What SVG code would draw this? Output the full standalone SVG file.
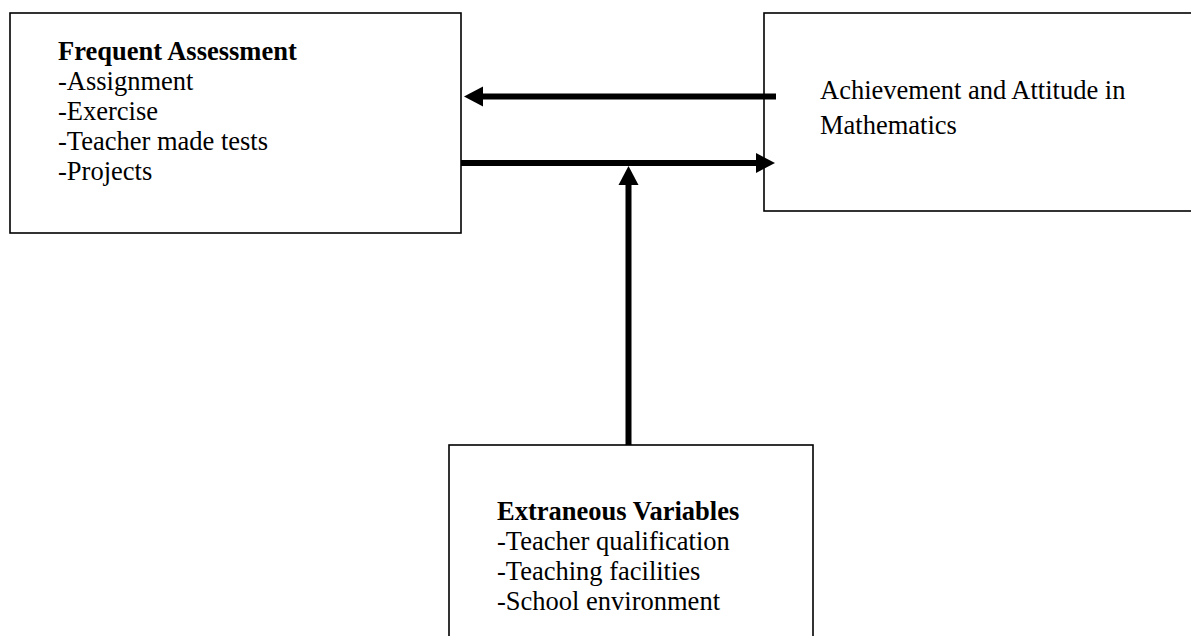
<svg xmlns="http://www.w3.org/2000/svg" width="1191" height="636" viewBox="0 0 1191 636">
  <style>
    .box { fill: #ffffff; stroke: #000000; stroke-width: 1.6; }
    .t { font-family: "Liberation Serif", "Times New Roman", serif; font-size: 26.5px; fill: #000000; }
    .b { font-weight: bold; }
    .conn { stroke: #000000; stroke-width: 6; fill: none; }
  </style>
  <defs>
    <marker id="ah" markerUnits="userSpaceOnUse" markerWidth="20" markerHeight="20" refX="1" refY="10" orient="auto" overflow="visible">
      <path d="M0,0 L19,10 L0,20 Z" fill="#000000"/>
    </marker>
  </defs>
  <rect x="0" y="0" width="1191" height="636" fill="#ffffff"/>

  <g id="node-frequent-assessment">
    <rect class="box" x="10" y="13" width="451" height="220"/>
    <text class="t b" x="58" y="60">Frequent Assessment</text>
    <text class="t" x="58" y="90">-Assignment</text>
    <text class="t" x="58" y="120">-Exercise</text>
    <text class="t" x="58" y="150">-Teacher made tests</text>
    <text class="t" x="58" y="180">-Projects</text>
  </g>

  <g id="node-achievement">
    <rect class="box" x="764" y="13" width="440" height="198"/>
    <text class="t" x="820" y="99">Achievement and Attitude in</text>
    <text class="t" x="820" y="134">Mathematics</text>
  </g>

  <g id="node-extraneous">
    <rect class="box" x="449" y="445" width="364" height="200"/>
    <text class="t b" x="497" y="520">Extraneous Variables</text>
    <text class="t" x="497" y="550">-Teacher qualification</text>
    <text class="t" x="497" y="580">-Teaching facilities</text>
    <text class="t" x="497" y="610">-School environment</text>
  </g>

  <g id="connectors">
    <line class="conn" x1="776" y1="96.5" x2="482" y2="96.5" marker-end="url(#ah)"/>
    <line class="conn" x1="461" y1="163" x2="757" y2="163" marker-end="url(#ah)"/>
    <line class="conn" x1="628.5" y1="445" x2="628.5" y2="184" marker-end="url(#ah)"/>
  </g>
</svg>
